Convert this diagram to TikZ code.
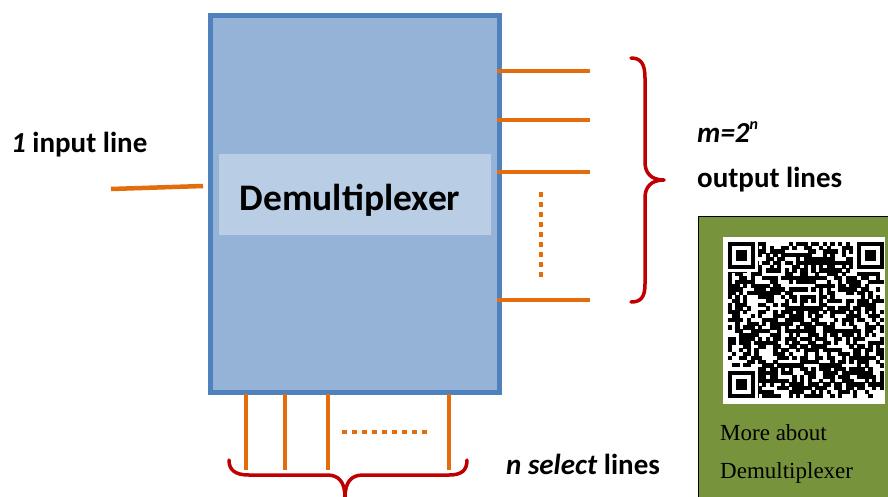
\documentclass[tikz,border=0pt]{standalone}
\usepackage{fontspec}
\setmainfont{Carlito}
\newfontfamily\serifqr{Liberation Serif}
\definecolor{dmxorange}{HTML}{E46C0A}
\definecolor{dmxborder}{HTML}{4F81BD}
\definecolor{dmxfill}{HTML}{95B3D7}
\definecolor{dmxband}{HTML}{B9CDE5}
\definecolor{dmxred}{HTML}{C00000}
\definecolor{dmxgreen}{HTML}{77933C}
\tikzset{
  wire/.style={draw=dmxorange, line width=4.5pt},
  dotwire/.style={draw=dmxorange, line width=4.5pt, dash pattern=on 5pt off 5pt},
  bracepath/.style={draw=dmxred, line width=3.5pt, line cap=round, line join=round},
  lbl/.style={font=\fontsize{29}{33}\selectfont\bfseries, inner sep=0pt, anchor=base west},
  qrcap/.style={font=\fontsize{23}{26}\serifqr, inner sep=0pt, anchor=base west},
}
\begin{document}
\begin{tikzpicture}[x=1pt,y=-1pt]
\useasboundingbox (0,0) rectangle (888,496);
\clip (0,0) rectangle (888,496);
% box
\node[draw=dmxborder, fill=dmxfill, line width=5pt, minimum width=289pt, minimum height=377pt, inner sep=0pt] (demux) at (354.5,203.5) {};
\node[fill=dmxband, minimum width=272pt, minimum height=81pt, inner sep=0pt] (band) at (355,194.5) {};
\node[font=\fontsize{37.5}{42}\selectfont\bfseries, inner sep=0pt, anchor=base] (title) at (350,210) {Demultiplexer};
% input
\coordinate (inA) at (111,189);
\coordinate (inB) at (203,186);
\draw[wire] (inA) -- (inB);
\node[lbl] (inlbl) at (11,152) {\textit{1} input line};
% outputs
\foreach \y/\n in {71/o1,120/o2,172/o3,300/o4}{
  \coordinate (\n a) at (497,\y);
  \coordinate (\n b) at (590,\y);
  \draw[wire] (\n a) -- (\n b);
}
\coordinate (dvA) at (541,192);
\coordinate (dvB) at (541,280);
\draw[dotwire] (dvA) -- (dvB);
% selects
\foreach \x/\n in {246/s1,285/s2,328/s3,449/s4}{
  \coordinate (\n a) at (\x,394);
  \coordinate (\n b) at (\x,470);
  \draw[wire] (\n a) -- (\n b);
}
\coordinate (dhA) at (342,432);
\coordinate (dhB) at (430,432);
\draw[dotwire] (dhA) -- (dhB);
% right brace
\draw[bracepath] (631,58) .. controls (641,58) and (645,64) .. (645,78) -- (645,162)
  .. controls (645,173) and (651,180) .. (664,180)
  .. controls (651,180) and (645,187) .. (645,198) -- (645,284)
  .. controls (645,297) and (641,302) .. (631,302);
% bottom brace
\draw[bracepath] (229,460) .. controls (229,470) and (235,475) .. (249,475) -- (327,475)
  .. controls (339,475) and (345,482) .. (345,498)
  .. controls (345,482) and (351,475) .. (363,475) -- (449,475)
  .. controls (462,475) and (467,470) .. (467,460);
% labels
\node[lbl] (mlbl) at (697,142) {\textit{m=2}\raisebox{0.42em}{\fontsize{16}{18}\selectfont\textit{n}}};
\node[lbl] (outlbl) at (697,187) {output lines};
\node[lbl] (sellbl) at (506,474) {\textit{n select} lines};
% QR panel
\node[draw=black, fill=dmxgreen, line width=1.2pt, minimum width=195pt, minimum height=285pt, inner sep=0pt, anchor=north west] (qrbox) at (698,216) {};
\fill[white] (723,237) rectangle (885,404);
\pgfmathsetseed{4242}
\foreach \i in {0,...,40}{
  \foreach \j in {0,...,40}{
    \pgfmathtruncatemacro\bit{rnd<0.56}
    \ifnum\bit=1
      \fill[black] ({728+\i*3.8-0.2},{242+\j*3.8-0.2}) rectangle ++(4.2,4.2);
    \fi
  }
}
\foreach \fx/\fy in {0/0, 34/0, 0/34}{
  \fill[white] ({728+(\fx-1)*3.8},{242+(\fy-1)*3.8}) rectangle ++(9*3.8,9*3.8);
  \fill[black] ({728+\fx*3.8},{242+\fy*3.8}) rectangle ++(7*3.8,7*3.8);
  \fill[white] ({728+(\fx+1)*3.8},{242+(\fy+1)*3.8}) rectangle ++(5*3.8,5*3.8);
  \fill[black] ({728+(\fx+2)*3.8},{242+(\fy+2)*3.8}) rectangle ++(3*3.8,3*3.8);
}
\fill[white] (723,237) rectangle (728,404);
\fill[white] (723,237) rectangle (885,242);
\fill[white] (723,397.8) rectangle (885,404);
\fill[dmxgreen] (885,237) rectangle (888,404);
\node[qrcap] (cap1) at (720,440) {More about};
\node[qrcap] (cap2) at (720,478) {Demultiplexer};
\end{tikzpicture}
\end{document}
